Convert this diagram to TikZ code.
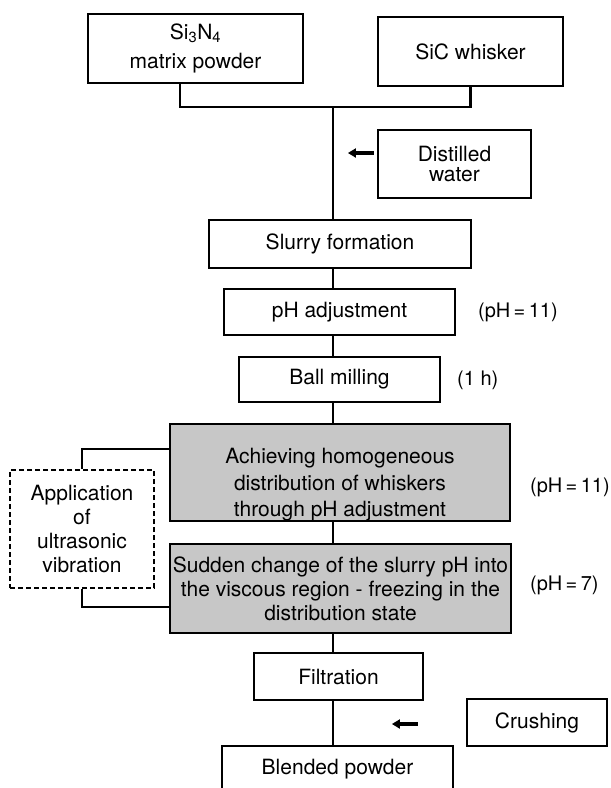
\documentclass[tikz,border=0pt]{standalone}
\usepackage{fontspec}
\setmainfont{TeX Gyre Heros}
\usetikzlibrary{positioning,calc,arrows.meta}

\tikzset{
  stage/.style={draw, line width=2.2pt, align=center, inner sep=0pt, font=\fontsize{21}{24}\selectfont},
  shaded/.style={stage, fill=black!22},
  aside/.style={draw, dashed, line width=1.3pt, dash pattern=on 5pt off 3pt, align=center, inner sep=0pt, font=\fontsize{21}{24}\selectfont},
  note/.style={anchor=west, inner sep=0pt, font=\fontsize{20}{23}\selectfont},
  link/.style={line width=2.2pt},
  sidelink/.style={line width=1.3pt},
  feed/.style={line width=3.5pt, -{Triangle[length=8pt,width=9pt]}}
}

\begin{document}
\begin{tikzpicture}[x=1pt,y=-1pt]
\useasboundingbox (0,0) rectangle (611,788);
\clip (0,0) rectangle (611,788);
\node[stage, minimum width=215pt, minimum height=69pt, font=\fontsize{21}{29}\selectfont] (matrix) at (195.5,48.5) {Si\textsubscript{3}N\textsubscript{4}\\matrix powder};
\node[stage, minimum width=185pt, minimum height=69pt] (whisker) at (470.5,51.5) {SiC whisker};
\node[stage, minimum width=153pt, minimum height=68pt, font=\fontsize{21}{20}\selectfont] (water) at (454.5,164) {Distilled\\water};
\node[stage, minimum width=262pt, minimum height=48pt] (slurry) at (340,244) {Slurry formation};
\node[stage, minimum width=231pt, minimum height=46pt] (adjust) at (339.5,312) {pH adjustment};
\node[note] (adjustph) at (478,312) {(pH\,=\,11)};
\node[stage, minimum width=201pt, minimum height=45pt] (milling) at (339.5,379.5) {Ball milling};
\node[note] (millingtime) at (457,380) {(1 h)};
\node[shaded, minimum width=340pt, minimum height=97pt] (disperse) at (340,472.5) {};
\node[align=center, inner sep=0pt, font=\fontsize{21}{26.5}\selectfont] (dispersetext) at (340,485) {Achieving homogeneous\\distribution of whiskers\\through pH adjustment};
\node[note] (disperseph) at (530,487) {(pH\,=\,11)};
\node[aside, minimum width=144pt, minimum height=118pt] (ultrasonic) at (82,529) {Application\\of\\ultrasonic\\vibration};
\node[shaded, minimum width=341pt, minimum height=89pt] (freeze) at (340.5,588.5) {Sudden change of the slurry pH into\\the viscous region - freezing in the\\distribution state};
\node[note] (freezeph) at (530,585) {(pH\,=\,7)};
\node[stage, minimum width=169pt, minimum height=47pt] (filter) at (338.5,676.5) {Filtration};
\node[stage, minimum width=140pt, minimum height=47pt] (crush) at (537,722.5) {Crushing};
\node[stage, minimum width=231pt, minimum height=46pt] (blend) at (337.5,769) {Blended powder};

\coordinate (hub) at (333,107);
\coordinate (watertip) at ($(water.west)+(-29,-11)$);
\coordinate (crushtail) at ($(crush.west)+(-48,1.5)$);
\coordinate (crushtip) at ($(crush.west)+(-74,1.5)$);

\draw[link] ($(matrix.south)+(-15.5,0)$) |- (hub) -| (whisker.south);
\draw[link] (hub) -- (hub |- slurry.north);
\draw[link] (slurry.south -| hub) -- (adjust.north -| hub);
\draw[link] (adjust.south -| hub) -- (milling.north -| hub);
\draw[link] (milling.south -| hub) -- (disperse.north -| hub);
\draw[link] (disperse.south -| hub) -- (freeze.north -| hub);
\draw[link] (freeze.south -| hub) -- (filter.north -| hub);
\draw[link] (filter.south -| hub) -- (blend.north -| hub);
\draw[sidelink] ($(disperse.west)+(0,-23.5)$) -| (ultrasonic.north);
\draw[sidelink] (ultrasonic.south) |- ($(freeze.west)+(0,18.5)$);
\draw[feed] ($(water.west)+(-3,-11)$) -- (watertip);
\draw[feed] (crushtail) -- (crushtip);
\end{tikzpicture}
\end{document}
